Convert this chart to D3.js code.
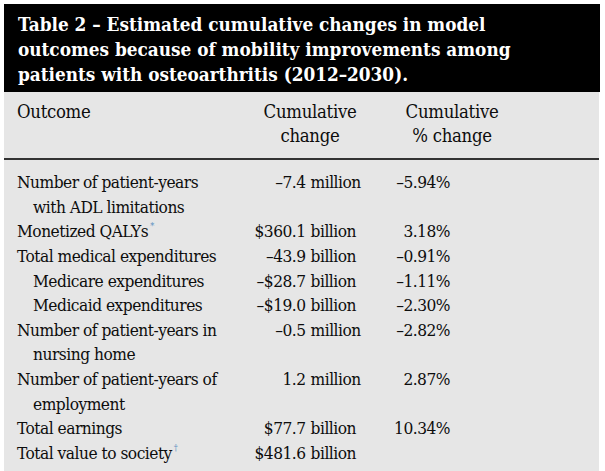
<!DOCTYPE html>
<html>
<head>
  <meta charset="utf-8">
  <title>Table 2</title>
  <script src="https://cdn.jsdelivr.net/npm/d3@7"></script>
  <style>
    body { margin: 0; background: #fff; }
    text { font-family: "DejaVu Serif Condensed", "DejaVu Serif", serif; }
  </style>
</head>
<body>
<script>

// table content
var titleLines = [
  "Table 2 – Estimated cumulative changes in model",
  "outcomes because of mobility improvements among",
  "patients with osteoarthritis (2012–2030)."
];
var headers = ["Outcome", ["Cumulative", "change"], ["Cumulative", "% change"]];

var outcomes = [
  ["Number of patient-years", "with ADL limitations"],
  ["Monetized QALYs"],
  ["Total medical expenditures"],
  ["Medicare expenditures"],
  ["Medicaid expenditures"],
  ["Number of patient-years in", "nursing home"],
  ["Number of patient-years of", "employment"],
  ["Total earnings"],
  ["Total value to society"]
];
var indented = [false, false, false, true, true, false, false, false, false];
var footMarks = ["", "*", "", "", "", "", "", "", "†"];
var changeNum = ["–7.4", "$360.1", "–43.9", "–$28.7", "–$19.0", "–0.5", "1.2", "$77.7", "$481.6"];
var changeUnit = ["million", "billion", "billion", "billion", "billion", "million", "million", "billion", "billion"];
var pctChange = ["–5.94%", "3.18%", "–0.91%", "–1.11%", "–2.30%", "–2.82%", "2.87%", "10.34%", ""];

var w = 605, h = 471;
var fs = 17.2, ls = -0.5;     // body text
var hfs = 18.4, hls = -0.3;   // header row

var svg = d3.select("body").append("svg")
  .attr("width", w)
  .attr("height", h);

// backgrounds
svg.append("rect").attr("x", 4).attr("y", 92).attr("width", 595).attr("height", h - 92).attr("fill", "#e6e6e6");
svg.append("rect").attr("x", 4).attr("y", 4).attr("width", 596).attr("height", 88).attr("fill", "#000");
svg.append("rect").attr("x", 4).attr("y", 158).attr("width", 595).attr("height", 2).attr("fill", "#333");

// title
var titleY = d3.scaleLinear().domain([0, 2]).range([31, 81]);
svg.selectAll(".title")
  .data(titleLines)
  .enter()
  .append("text")
  .attr("class", "title")
  .attr("x", 18)
  .attr("y", function(d, i) { return titleY(i); })
  .attr("font-size", 18.8)
  .attr("font-weight", "bold")
  .attr("fill", "#fff")
  .text(function(d) { return d; });

// header row
var colX = [17, 310, 452];
svg.append("text").attr("x", colX[0]).attr("y", 118).attr("font-size", hfs)
  .attr("letter-spacing", hls).attr("fill", "#0d0d0d").text(headers[0]);
[1, 2].forEach(function(c) {
  svg.selectAll(".h" + c)
    .data(headers[c])
    .enter()
    .append("text")
    .attr("x", colX[c])
    .attr("y", function(d, i) { return 118 + i * 24; })
    .attr("text-anchor", "middle")
    .attr("font-size", hfs)
    .attr("letter-spacing", hls)
    .attr("fill", "#0d0d0d")
    .text(function(d) { return d; });
});

// body rows: each row takes as many lines as its label
var startLine = [];
var n = 0;
outcomes.forEach(function(o) { startLine.push(n); n += o.length; });
var lineY = d3.scaleLinear().domain([0, n - 1]).range([188, 459]);

var rows = outcomes.map(function(o, i) {
  return { label: o, indent: indented[i], mark: footMarks[i], num: changeNum[i],
           unit: changeUnit[i], pct: pctChange[i], line: startLine[i] };
});

var g = svg.selectAll(".row")
  .data(rows)
  .enter()
  .append("g")
  .attr("class", "row")
  .attr("font-size", fs)
  .attr("letter-spacing", ls)
  .attr("fill", "#0d0d0d");

// labels
g.each(function(d) {
  var sel = d3.select(this);
  d.label.forEach(function(l, k) {
    var t = sel.append("text")
      .attr("x", colX[0] + (d.indent || k > 0 ? 16 : 0))
      .attr("y", lineY(d.line + k))
      .text(l);
    if (k === 0 && d.mark) {
      t.append("tspan")
        .attr("dy", -8)
        .attr("dx", 2)
        .attr("font-size", 9)
        .attr("fill", "#5b8fc0")
        .text(d.mark);
    }
  });
});

// cumulative change, aligned on the decimal point
var unitEnd = 356;
var probe = svg.append("text").attr("font-size", fs).attr("letter-spacing", ls).text("billion");
var unitStart = unitEnd - probe.node().getComputedTextLength();
probe.remove();

g.append("text")
  .attr("x", unitStart - 5)
  .attr("y", function(d) { return lineY(d.line); })
  .attr("text-anchor", "end")
  .text(function(d) { return d.num; });

g.append("text")
  .attr("x", unitStart)
  .attr("y", function(d) { return lineY(d.line); })
  .text(function(d) { return d.unit; });

// cumulative % change
g.append("text")
  .attr("x", 450)
  .attr("y", function(d) { return lineY(d.line); })
  .attr("text-anchor", "end")
  .text(function(d) { return d.pct; });

</script>
</body>
</html>
